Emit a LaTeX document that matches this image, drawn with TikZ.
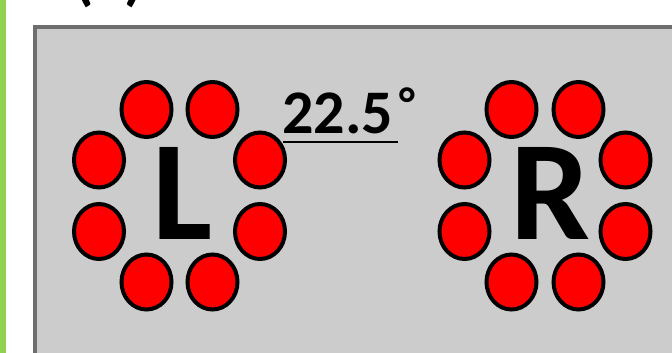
\documentclass[tikz,border=0pt]{standalone}
\usepackage{fontspec}
\setmainfont{Carlito}
\usetikzlibrary{shapes.geometric}
\begin{document}
\begin{tikzpicture}[x=1pt,y=-1pt,
  dot/.style={ellipse, draw=black, fill=red, line width=4pt, inner sep=0pt,
    minimum width=50pt, minimum height=55pt},
  bigletter/.style={font=\bfseries\fontsize{142}{142}\selectfont, inner sep=0pt},
  anglelabel/.style={font=\bfseries\fontsize{62}{62}\selectfont, inner sep=0pt}]
\useasboundingbox (0,0) rectangle (672,353);
% green strip
\fill[fill={rgb,255:red,146;green,208;blue,80}] (0,0) rectangle (6,353);
% panel
\draw[fill={rgb,255:red,204;green,204;blue,204}, draw={rgb,255:red,110;green,110;blue,110}, line width=3.5pt]
  (34.75,27) rectangle (720,420);
% panel label (clipped at the top edge, as in the reference)
\node[font=\bfseries\fontsize{62}{62}\selectfont, anchor=base, inner sep=0pt] (lbl) at (109.5,-1.5) {(a)};
% left group
\foreach \n/\x/\y in {a/146.5/109.5, b/212.5/109.5, c/260/160, d/260/231.5, e/212.5/282, f/146.5/282, g/99/231.5, h/99/160}
  \node[dot] (l\n) at (\x,\y) {};
\node[bigletter] (L) at (182.5,193.5) {L};
% right group
\foreach \n/\x/\y in {a/511.5/109.5, b/578.5/109.5, c/625.5/160, d/625.5/231.5, e/578.5/282, f/511.5/282, g/464.5/231.5, h/464.5/160}
  \node[dot] (r\n) at (\x,\y) {};
\node[bigletter] (R) at (550.5,193) {R};
% angle label
\node[anglelabel, anchor=base west] (ang) at (282,133) {22.5};
\draw[line width=2.6pt] (283,142) coordinate (u1) -- (398,142) coordinate (u2);
\node[font=\bfseries\fontsize{46}{46}\selectfont, inner sep=0pt, anchor=north] (deg) at (407.5,88) {°};
\end{tikzpicture}
\end{document}
